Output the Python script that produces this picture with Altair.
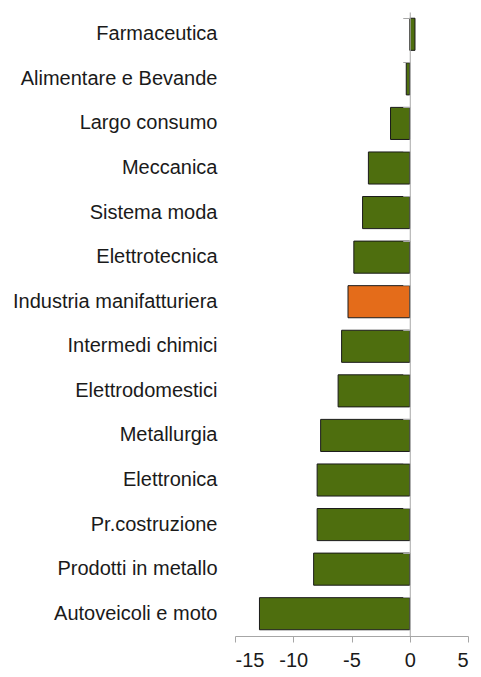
import altair as alt
import pandas as pd

categories = ["Farmaceutica", "Alimentare e Bevande", "Largo consumo", "Meccanica",
              "Sistema moda", "Elettrotecnica", "Industria manifatturiera",
              "Intermedi chimici", "Elettrodomestici", "Metallurgia", "Elettronica",
              "Pr.costruzione", "Prodotti in metallo", "Autoveicoli e moto"]
values = [0.45, -0.3, -1.65, -3.55, -4.05, -4.8, -5.3, -5.85, -6.15, -7.65,
          -7.95, -7.95, -8.25, -12.9]
groups = ["settore"] * 6 + ["totale"] + ["settore"] * 7
x_ticks = [-15, -10, -5, 0, 5]

GREEN = "#4e6e0e"
ORANGE = "#e46c1a"
AXIS_GRAY = "#a6a6a6"
TEXT = "#1a1a1a"
FONT = "Liberation Sans"
FS = 20

W = 233
H = 624
df = pd.DataFrame({"settore": categories, "valore": values, "gruppo": groups})

yscale = alt.Scale(domain=categories, paddingInner=0.28, paddingOuter=0.14)

bars = alt.Chart(df).mark_bar(stroke=TEXT, strokeWidth=1).encode(
    x=alt.X("valore:Q",
            scale=alt.Scale(domain=[-15, 5], nice=False, zero=False),
            axis=alt.Axis(values=x_ticks, title=None, grid=False,
                          domainColor=AXIS_GRAY, tickColor=AXIS_GRAY, tickSize=6,
                          labelPadding=8, labelFontSize=FS, labelFont=FONT,
                          labelColor=TEXT, labelExpr="toString(datum.value)")),
    y=alt.Y("settore:N", sort=categories, scale=yscale,
            axis=alt.Axis(title=None, domain=False, ticks=False, tickSize=0,
                          labelPadding=18, labelFontSize=FS, labelFont=FONT,
                          labelColor=TEXT, labelLimit=400)),
    color=alt.Color("gruppo:N",
                    scale=alt.Scale(domain=["settore", "totale"], range=[GREEN, ORANGE]),
                    legend=None),
)

zero_axis = alt.Chart(df).mark_point(opacity=0).encode(
    y=alt.Y("settore:N", sort=categories, scale=yscale,
            axis=alt.Axis(orient="left", offset=-W * 0.75, labels=False, title=None,
                          bandPosition=0, tickSize=7, domainColor=AXIS_GRAY,
                          tickColor=AXIS_GRAY, zindex=1)),
)

chart = alt.layer(bars, zero_axis).resolve_axis(y="independent").properties(
    width=W, height=H,
    autosize=alt.AutoSizeParams(type="none"),
    padding={"left": 227, "top": 4, "right": 5, "bottom": 33},
).configure_view(stroke=None)

chart.save("out.html", embed_options={"renderer": "svg", "actions": False})
